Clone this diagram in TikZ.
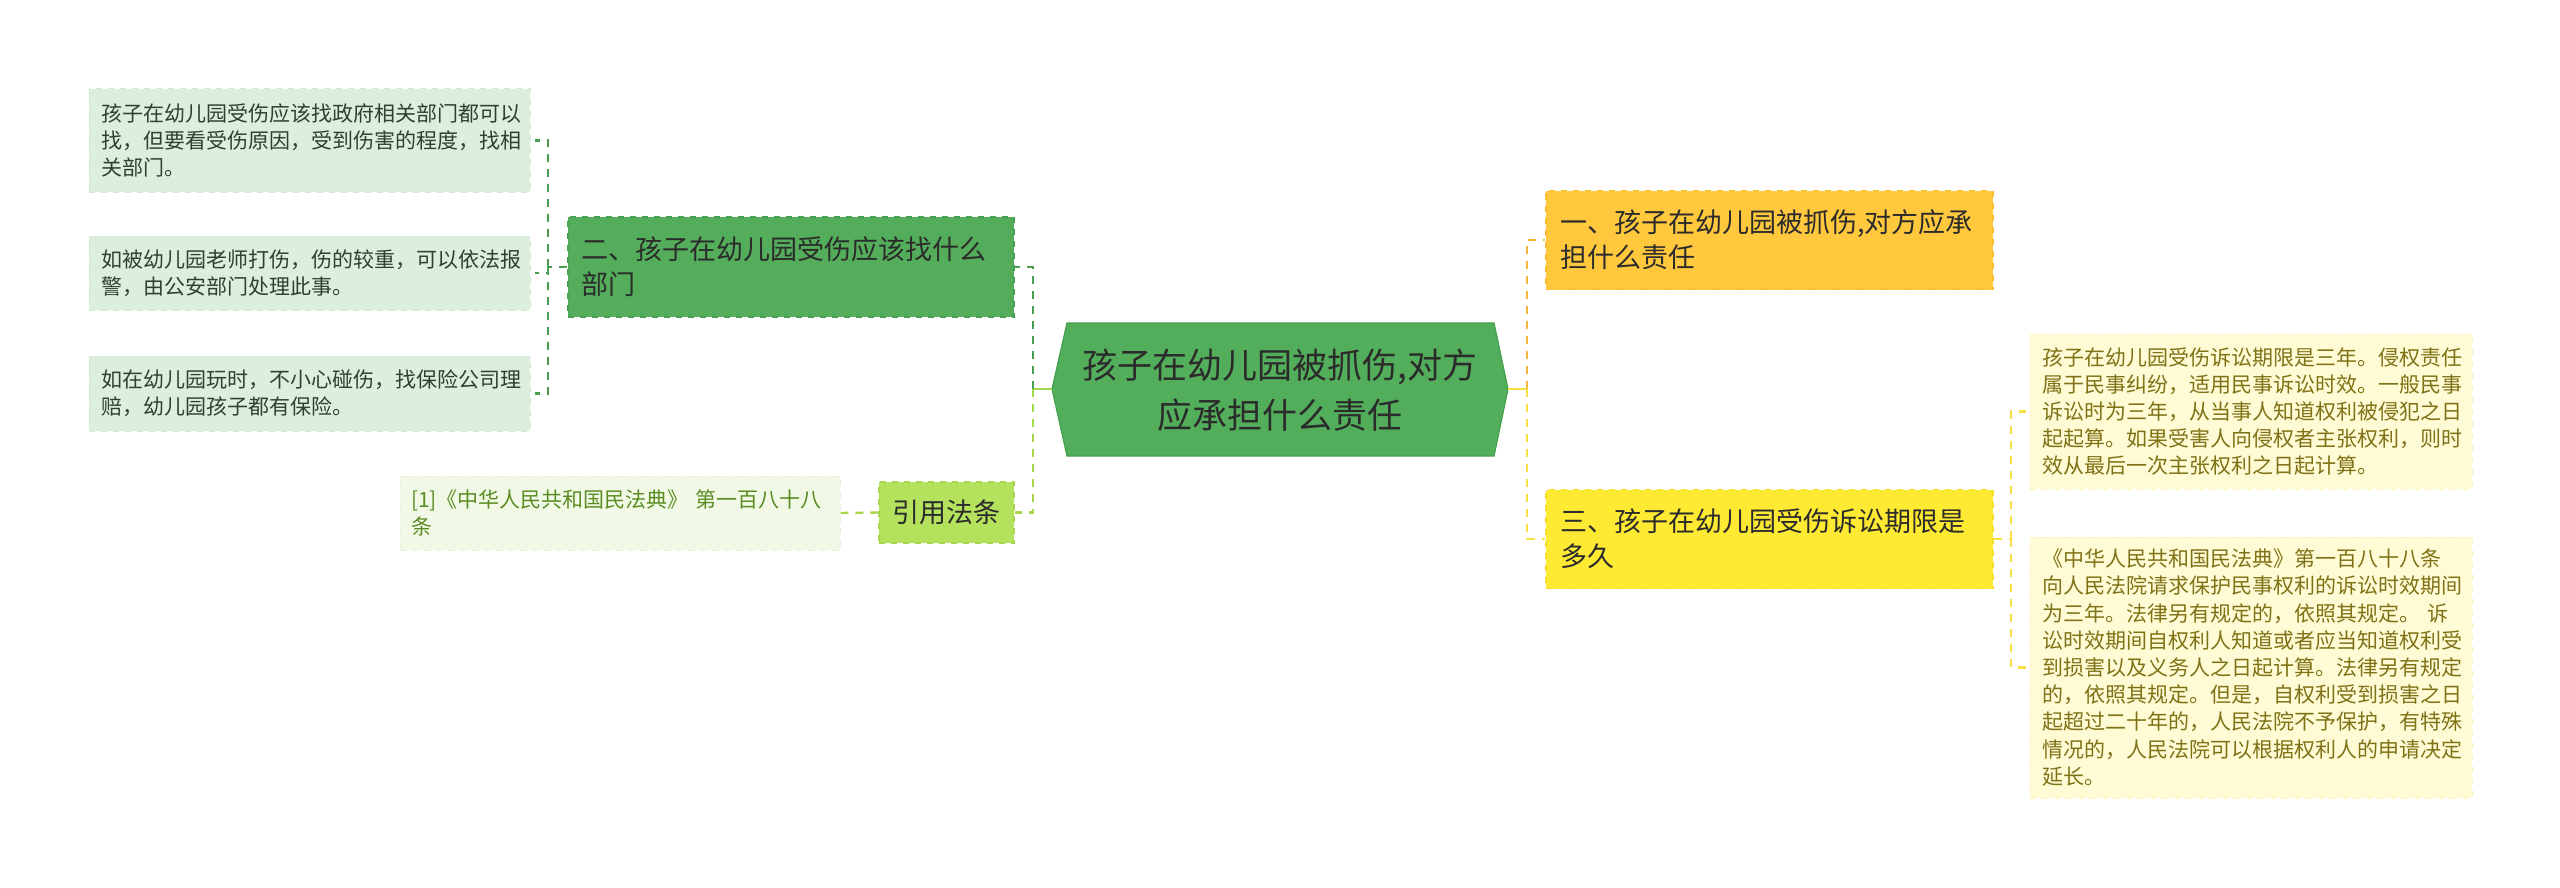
\documentclass[tikz,border=0pt]{standalone}
\usepackage{fontspec}
\setmainfont{Noto Sans CJK SC}
\definecolor{leafG}{HTML}{DCEFDE}
\definecolor{leafGb}{HTML}{D2E9D4}
\definecolor{leafGt}{HTML}{2F3F30}
\definecolor{brG}{HTML}{53AD5B}
\definecolor{brGb}{HTML}{47A04F}
\definecolor{hexG}{HTML}{52AE5A}
\definecolor{hexGb}{HTML}{45A04D}
\definecolor{lime}{HTML}{B4E25C}
\definecolor{limeb}{HTML}{A6D64E}
\definecolor{citeF}{HTML}{F1F9E6}
\definecolor{citeB}{HTML}{E6F2D6}
\definecolor{citeT}{HTML}{5A8C22}
\definecolor{orY}{HTML}{FFC83D}
\definecolor{orYb}{HTML}{F6BC33}
\definecolor{yel}{HTML}{FFEA33}
\definecolor{yelb}{HTML}{F6DE2C}
\definecolor{leafY}{HTML}{FFFBD5}
\definecolor{leafYb}{HTML}{F8F1C4}
\definecolor{leafYt}{HTML}{7F7216}
\definecolor{cGreen}{HTML}{4A9E52}
\definecolor{cLime}{HTML}{A6D64A}
\definecolor{cOrange}{HTML}{F3B73A}
\definecolor{cYellow}{HTML}{F7E040}
\definecolor{txtD}{HTML}{2B2B2B}
\newcommand\leaffnt{\fontsize{10.5pt}{13.6pt}\selectfont}
\newcommand\branchfnt{\fontsize{13.5pt}{17.5pt}\selectfont}
\newcommand\rootfnt{\fontsize{17.5pt}{25pt}\selectfont}
\begin{document}
\begin{tikzpicture}[x=0.5pt,y=-0.5pt,
  leafL/.style={rectangle, fill=leafG, draw=leafGb, dashed, line width=0.5pt,
    minimum width=220.5pt, text width=208.5pt, inner xsep=6pt, inner ysep=0pt,
    align=left, text=leafGt, font=\leaffnt},
  branchbox/.style={rectangle, dashed, line width=0.6pt, minimum width=223.5pt,
    minimum height=49.5pt, text width=209.5pt, inner xsep=7pt, inner ysep=0pt,
    align=left, text=txtD, font=\branchfnt},
  leafR/.style={rectangle, fill=leafY, draw=leafYb, dashed, line width=0.5pt,
    minimum width=221pt, text width=209pt, inner xsep=6pt, inner ysep=0pt,
    align=left, text=leafYt, font=\leaffnt},
  conn/.style={line width=1.2pt, dash pattern=on 4pt off 3.5pt},
  solidconn/.style={line width=1.4pt}
]
\useasboundingbox (0,0) rectangle (2560,888);

% left leaves
\node[leafL, minimum height=51.5pt] (l1) at (309.5,140.5)
  {孩子在幼儿园受伤应该找政府相关部门都可以\\找，但要看受伤原因，受到伤害的程度，找相\\关部门。};
\node[leafL, minimum height=37pt] (l2) at (309.5,273)
  {如被幼儿园老师打伤，伤的较重，可以依法报\\警，由公安部门处理此事。};
\node[leafL, minimum height=37.5pt] (l3) at (309.5,393.5)
  {如在幼儿园玩时，不小心碰伤，找保险公司理\\赔，幼儿园孩子都有保险。};

% branch 2
\node[branchbox, fill=brG, draw=brGb, minimum width=223pt, text width=210pt, inner xsep=6.5pt, minimum height=50pt] (b2) at (791,267)
  {二、孩子在幼儿园受伤应该找什么\\部门};

% citation
\node[rectangle, fill=lime, draw=limeb, dashed, line width=0.6pt, minimum width=67.5pt,
  minimum height=30.5pt, inner sep=0pt, text=txtD, font=\branchfnt] (ref) at (946.5,512.5) {引用法条};
\node[rectangle, fill=citeF, draw=citeB, dashed, line width=0.5pt, minimum width=220pt,
  minimum height=37pt, text width=209pt, inner xsep=5.5pt, inner ysep=0pt, align=left,
  text=citeT, font=\leaffnt] (cite) at (620,513)
  {[1]《中华人民共和国民法典》 第一百八十八\\条};

% root hexagon
\coordinate (hL) at (1052,389);
\coordinate (hR) at (1508,389);
\filldraw[fill=hexG, draw=hexGb, line width=0.6pt] (hL) -- (1067,323) -- (1494,323) -- (hR) -- (1494,456) -- (1067,456) -- cycle;
\node[align=center, text=txtD, font=\rootfnt, inner sep=0pt] (root) at (1280,390)
  {孩子在幼儿园被抓伤,对方\\应承担什么责任};

% right branches
\node[branchbox, fill=orY, draw=orYb] (b1) at (1769.5,240)
  {一、孩子在幼儿园被抓伤,对方应承\\担什么责任};
\node[branchbox, fill=yel, draw=yelb] (b3) at (1769.5,539)
  {三、孩子在幼儿园受伤诉讼期限是\\多久};

% right leaves
\node[leafR, minimum height=77.5pt] (ra) at (2251,411.5)
  {孩子在幼儿园受伤诉讼期限是三年。侵权责任\\属于民事纠纷，适用民事诉讼时效。一般民事\\诉讼时为三年，从当事人知道权利被侵犯之日\\起起算。如果受害人向侵权者主张权利，则时\\效从最后一次主张权利之日起计算。};
\node[leafR, minimum height=130.5pt] (rb) at (2251,667.5)
  {《中华人民共和国民法典》第一百八十八条\\向人民法院请求保护民事权利的诉讼时效期间\\为三年。法律另有规定的，依照其规定。 诉\\讼时效期间自权利人知道或者应当知道权利受\\到损害以及义务人之日起计算。法律另有规定\\的，依照其规定。但是，自权利受到损害之日\\起超过二十年的，人民法院不予保护，有特殊\\情况的，人民法院可以根据权利人的申请决定\\延长。};

% junctions
\coordinate (j2) at (548,267);
\coordinate (jL) at (1033,389);
\coordinate (jR) at (1527,389);
\coordinate (j3) at (2011,539);

% connectors left
\draw[conn, cGreen] (b2.west) -- (j2);
\draw[conn, cGreen, shorten >=2pt] (j2) |- (l1.east);
\draw[conn, cGreen, shorten >=2pt] (j2) |- (l2.east);
\draw[conn, cGreen, shorten >=2pt] (j2) |- (l3.east);
\draw[solidconn, cLime] (hL) -- (jL);
\draw[conn, cGreen] (jL) |- (b2.east);
\draw[conn, cLime] (jL) |- (ref.east);
\draw[conn, cLime] (ref.west) -- (cite.east);

% connectors right
\draw[solidconn, cYellow] (hR) -- (jR);
\draw[conn, cOrange] (jR) |- (b1.west);
\draw[conn, cYellow] (jR) |- (b3.west);
\draw[conn, cYellow] (b3.east) -- (j3);
\draw[conn, cYellow, shorten >=2pt] (j3) |- (ra.west);
\draw[conn, cYellow, shorten >=2pt] (j3) |- (rb.west);
\end{tikzpicture}
\end{document}
